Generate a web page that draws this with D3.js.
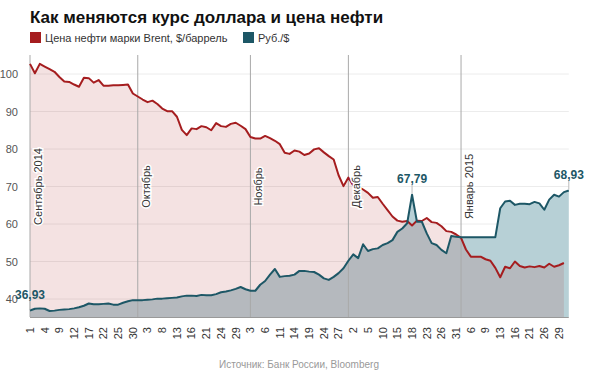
<!DOCTYPE html>
<html>
<head>
<meta charset="utf-8">
<script src="https://cdn.jsdelivr.net/npm/d3@7"></script>
<style>
  body { margin: 0; background: #fff; font-family: "Liberation Sans", Arial, sans-serif; }
</style>
</head>
<body>
<svg id="chart" width="600" height="386"></svg>
<script>

// brent, $/barrel, one value per trading day (1 sep 2014 .. 30 jan 2015)
var oil = [102.7,100.2,102.7,102.0,101.3,100.6,99.2,98.0,97.9,97.2,
           96.6,99.0,98.9,97.7,98.4,96.9,96.9,97.0,97.0,97.1,
           97.2,94.8,94.0,93.2,92.5,92.9,92.0,90.8,90.1,90.1,
           88.6,85.1,83.7,85.5,85.3,86.1,85.8,85.0,86.9,86.1,
           85.9,86.7,87.0,86.2,85.3,83.2,82.8,82.8,83.5,82.9,
           82.2,81.3,79.0,78.7,79.6,79.3,78.4,78.8,79.9,80.2,
           79.1,78.1,77.2,73.0,70.1,72.4,70.3,70.0,69.2,68.3,
           67.0,67.2,65.4,63.7,62.0,60.9,60.6,60.8,59.6,60.9,
           60.8,61.6,60.5,60.3,59.4,58.1,57.9,57.2,56.3,53.2,
           51.3,51.3,51.3,50.6,50.2,48.3,45.8,48.6,48.2,50.0,
           48.8,48.4,48.7,48.5,48.8,48.4,49.4,48.6,49.0,49.6];

// rub per $ (central bank rate)
var rub = [36.93,37.4,37.5,37.4,36.8,36.9,37.1,37.2,37.3,37.5,
           37.8,38.2,38.8,38.6,38.6,38.7,38.8,38.5,38.5,39.0,
           39.4,39.7,39.7,39.7,39.8,39.9,40.1,40.1,40.2,40.3,
           40.4,40.7,40.9,40.9,40.8,41.1,41.0,41.0,41.3,41.8,
           42.0,42.3,42.7,43.2,42.6,42.2,42.2,43.8,44.8,46.5,
           48.0,45.9,46.1,46.2,46.5,47.5,47.5,47.3,47.2,46.5,
           45.5,45.1,45.9,46.9,48.2,50.2,51.9,50.9,54.6,52.8,
           53.3,53.5,54.4,54.9,55.7,57.9,58.8,60.2,67.79,60.6,
           60.6,57.5,54.9,54.4,53.1,52.2,56.8,56.6,56.5,56.5,
           56.5,56.5,56.5,56.5,56.5,56.5,64.2,66.0,66.2,65.1,
           65.4,65.4,65.3,65.9,65.5,63.8,66.5,67.8,67.3,68.5,68.93];

// day labels, every 3rd trading day
var dayLabels = ["1","4","9","12","17","22","25","30",
                 "3","8","13","16","21","24","29",
                 "3","6","11","14","19","24","27",
                 "2","5","10","15","18","23","26","31",
                 "6","9","13","16","21","26","29"];

var monthNames = ["Сентябрь 2014", "Октябрь", "Ноябрь", "Декабрь", "Январь 2015"];
var monthStart = [0, 22, 45, 65, 88];

var yTicks = [40, 50, 60, 70, 80, 90, 100];

// labelled points of the rouble series
var callouts = [0, 78, 110];

var oilColor = "#a51d1f", rubColor = "#1d5766";

var svg = d3.select("#chart");

var x = d3.scaleLinear().domain([0, 110]).range([30, 568.8]);
var y = d3.scaleLinear().domain([35.2, 105.07]).range([317, 55]);

// title + legend
svg.append("text")
  .attr("x", 30).attr("y", 23)
  .style("font-size", "17px").style("font-weight", "bold").style("fill", "#111")
  .text("Как меняются курс доллара и цена нефти");

var legend = [["Цена нефти марки Brent, $/баррель", oilColor, 30], ["Руб./$", rubColor, 243]];
var lg = svg.selectAll("g.legend").data(legend).enter().append("g").attr("class", "legend");
lg.append("rect")
  .attr("x", function(d) { return d[2]; }).attr("y", 32)
  .attr("width", 11).attr("height", 11)
  .style("fill", function(d) { return d[1]; });
lg.append("text")
  .attr("x", function(d) { return d[2] + 15; }).attr("y", 42)
  .style("font-size", "11px").style("fill", "#333")
  .text(function(d) { return d[0]; });

// grid
svg.append("g").selectAll("line").data(yTicks).enter().append("line")
  .attr("x1", 30).attr("x2", x(110))
  .attr("y1", function(d) { return y(d); }).attr("y2", function(d) { return y(d); })
  .style("stroke", "#ececec").style("stroke-width", 1);

svg.append("g").selectAll("text").data(yTicks).enter().append("text")
  .attr("x", 18).attr("y", function(d) { return y(d) + 4; })
  .attr("text-anchor", "end")
  .style("font-size", "11px").style("fill", "#555")
  .text(function(d) { return d; });

// areas
var rubArea = d3.area()
  .x(function(d, i) { return x(i); })
  .y0(y(35.2))
  .y1(function(d) { return y(d); });

svg.append("path").datum(rub)
  .attr("d", rubArea)
  .style("fill", "#b7d0d6");

svg.append("path").datum(oil)
  .attr("d", rubArea)
  .style("fill", "rgba(170,30,30,0.13)");

// month separators
svg.append("g").selectAll("line").data(monthStart).enter().append("line")
  .attr("x1", function(d) { return x(d); }).attr("x2", function(d) { return x(d); })
  .attr("y1", 55).attr("y2", 317)
  .style("stroke", "#a9a9a9").style("stroke-width", 1);

// bottom axis line
svg.append("line")
  .attr("x1", 30).attr("x2", x(110)).attr("y1", 317.5).attr("y2", 317.5)
  .style("stroke", "#999").style("stroke-width", 1);

// lines
var line = d3.line()
  .x(function(d, i) { return x(i); })
  .y(function(d) { return y(d); });

svg.append("path").datum(oil)
  .attr("d", line)
  .style("fill", "none").style("stroke", oilColor).style("stroke-width", 2)
  .style("stroke-linejoin", "round");

svg.append("path").datum(rub)
  .attr("d", line)
  .style("fill", "none").style("stroke", rubColor).style("stroke-width", 2)
  .style("stroke-linejoin", "round");

// month labels
svg.append("g").selectAll("text").data(monthStart).enter().append("text")
  .attr("transform", function(d) { return "translate(" + (x(d) + 12) + "," + y(70) + ") rotate(-90)"; })
  .attr("text-anchor", "middle")
  .style("font-size", "11px").style("fill", "#333")
  .style("paint-order", "stroke").style("stroke", "#fff").style("stroke-width", 3)
  .text(function(d, i) { return monthNames[i]; });

// callouts
var co = svg.append("g").selectAll("g").data(callouts).enter().append("g");
co.append("line")
  .attr("x1", function(d) { return x(d); }).attr("x2", function(d) { return x(d); })
  .attr("y1", function(d) { return y(rub[d]) - 10; })
  .attr("y2", function(d) { return y(rub[d]) - 1; })
  .style("stroke", "#bbb").style("stroke-width", 1);
co.append("text")
  .attr("x", function(d) { return x(d); })
  .attr("y", function(d) { return y(rub[d]) - 12; })
  .attr("text-anchor", "middle")
  .style("font-size", "12px").style("font-weight", "bold").style("fill", rubColor)
  .text(function(d) { return d3.format(".2f")(rub[d]).replace(".", ","); });

// day ticks
svg.append("g").selectAll("text").data(dayLabels).enter().append("text")
  .attr("transform", function(d, i) { return "translate(" + x(i * 3) + ",327) rotate(-90)"; })
  .attr("text-anchor", "end")
  .attr("dy", "0.35em")
  .style("font-size", "11px").style("fill", "#333")
  .text(function(d) { return d; });

// source
svg.append("text")
  .attr("x", 299).attr("y", 368)
  .attr("text-anchor", "middle")
  .style("font-size", "10px").style("fill", "#999")
  .text("Источник: Банк России, Bloomberg");

</script>
</body>
</html>
